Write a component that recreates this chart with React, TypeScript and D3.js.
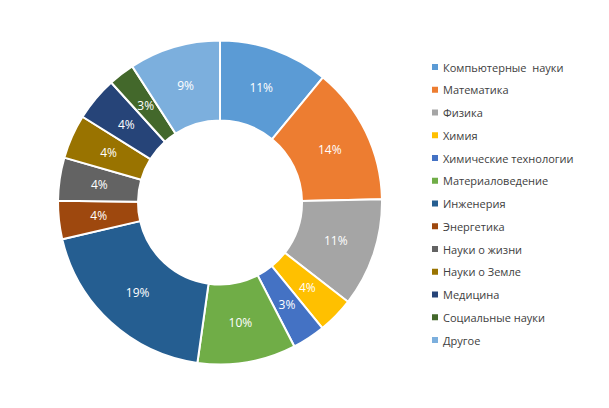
import React, { useRef, useEffect } from "react";
import * as d3 from "d3";

const categories = [
  "Компьютерные  науки",
  "Математика",
  "Физика",
  "Химия",
  "Химические технологии",
  "Материаловедение",
  "Инженерия",
  "Энергетика",
  "Науки о жизни",
  "Науки о Земле",
  "Медицина",
  "Социальные науки",
  "Другое",
];
const values = [10.95, 13.7, 10.8, 3.6, 3.3, 9.8, 19.1, 3.8, 4.3, 4.4, 4.4, 2.6, 9.1];
const labels = ["11%", "14%", "11%", "4%", "3%", "10%", "19%", "4%", "4%", "4%", "4%", "3%", "9%"];
const colors = [
  "#5B9BD5", "#ED7D31", "#A5A5A5", "#FFC000", "#4472C4", "#70AD47",
  "#255E91", "#9E480E", "#636363", "#997300", "#264478", "#43682B", "#7CAFDD",
];

const W = 609;
const H = 408;

const App: React.FC = () => {
  const svgRef = useRef<SVGSVGElement | null>(null);

  useEffect(() => {
    if (!svgRef.current) return;
    const svg = d3.select(svgRef.current);
    svg.selectAll("*").remove();

    const cx = 220;
    const cy = 202.5;
    const outer = 162;
    const inner = 82;

    const pie = d3.pie<number>().sort(null).value((d) => d);
    const arcs = pie(values);
    const arc = d3.arc<d3.PieArcDatum<number>>().innerRadius(inner).outerRadius(outer);
    const labelArc = d3
      .arc<d3.PieArcDatum<number>>()
      .innerRadius((inner + outer) / 2)
      .outerRadius((inner + outer) / 2);

    const g = svg.append("g").attr("transform", `translate(${cx},${cy})`);

    g.selectAll("path")
      .data(arcs)
      .enter()
      .append("path")
      .attr("d", arc)
      .attr("fill", (_, i) => colors[i])
      .attr("stroke", "white")
      .attr("stroke-width", 2);

    g.selectAll("text")
      .data(arcs)
      .enter()
      .append("text")
      .attr("transform", (d) => `translate(${labelArc.centroid(d)})`)
      .attr("text-anchor", "middle")
      .attr("dominant-baseline", "central")
      .attr("fill", "white")
      .attr("font-family", "'Open Sans', sans-serif")
      .attr("font-size", "12px")
      .text((_, i) => labels[i]);

    const y = d3
      .scalePoint<string>()
      .domain(categories)
      .range([67, 340]);

    const legend = svg.append("g");
    const rows = legend
      .selectAll("g")
      .data(categories)
      .enter()
      .append("g")
      .attr("transform", (d) => `translate(432,${y(d)})`);

    rows
      .append("rect")
      .attr("x", 0)
      .attr("y", -3)
      .attr("width", 6)
      .attr("height", 6)
      .attr("fill", (_, i) => colors[i]);

    rows
      .append("text")
      .attr("x", 11)
      .attr("y", 0)
      .attr("dominant-baseline", "central")
      .attr("fill", "#404040")
      .attr("font-family", "'Open Sans', sans-serif")
      .attr("font-size", "11px")
      .style("white-space", "pre")
      .text((d) => d);
  }, []);

  return (
    <svg
      ref={svgRef}
      width={W}
      height={H}
      style={{ position: "absolute", left: 0, top: 0, background: "white" }}
    ></svg>
  );
};

export default App;
